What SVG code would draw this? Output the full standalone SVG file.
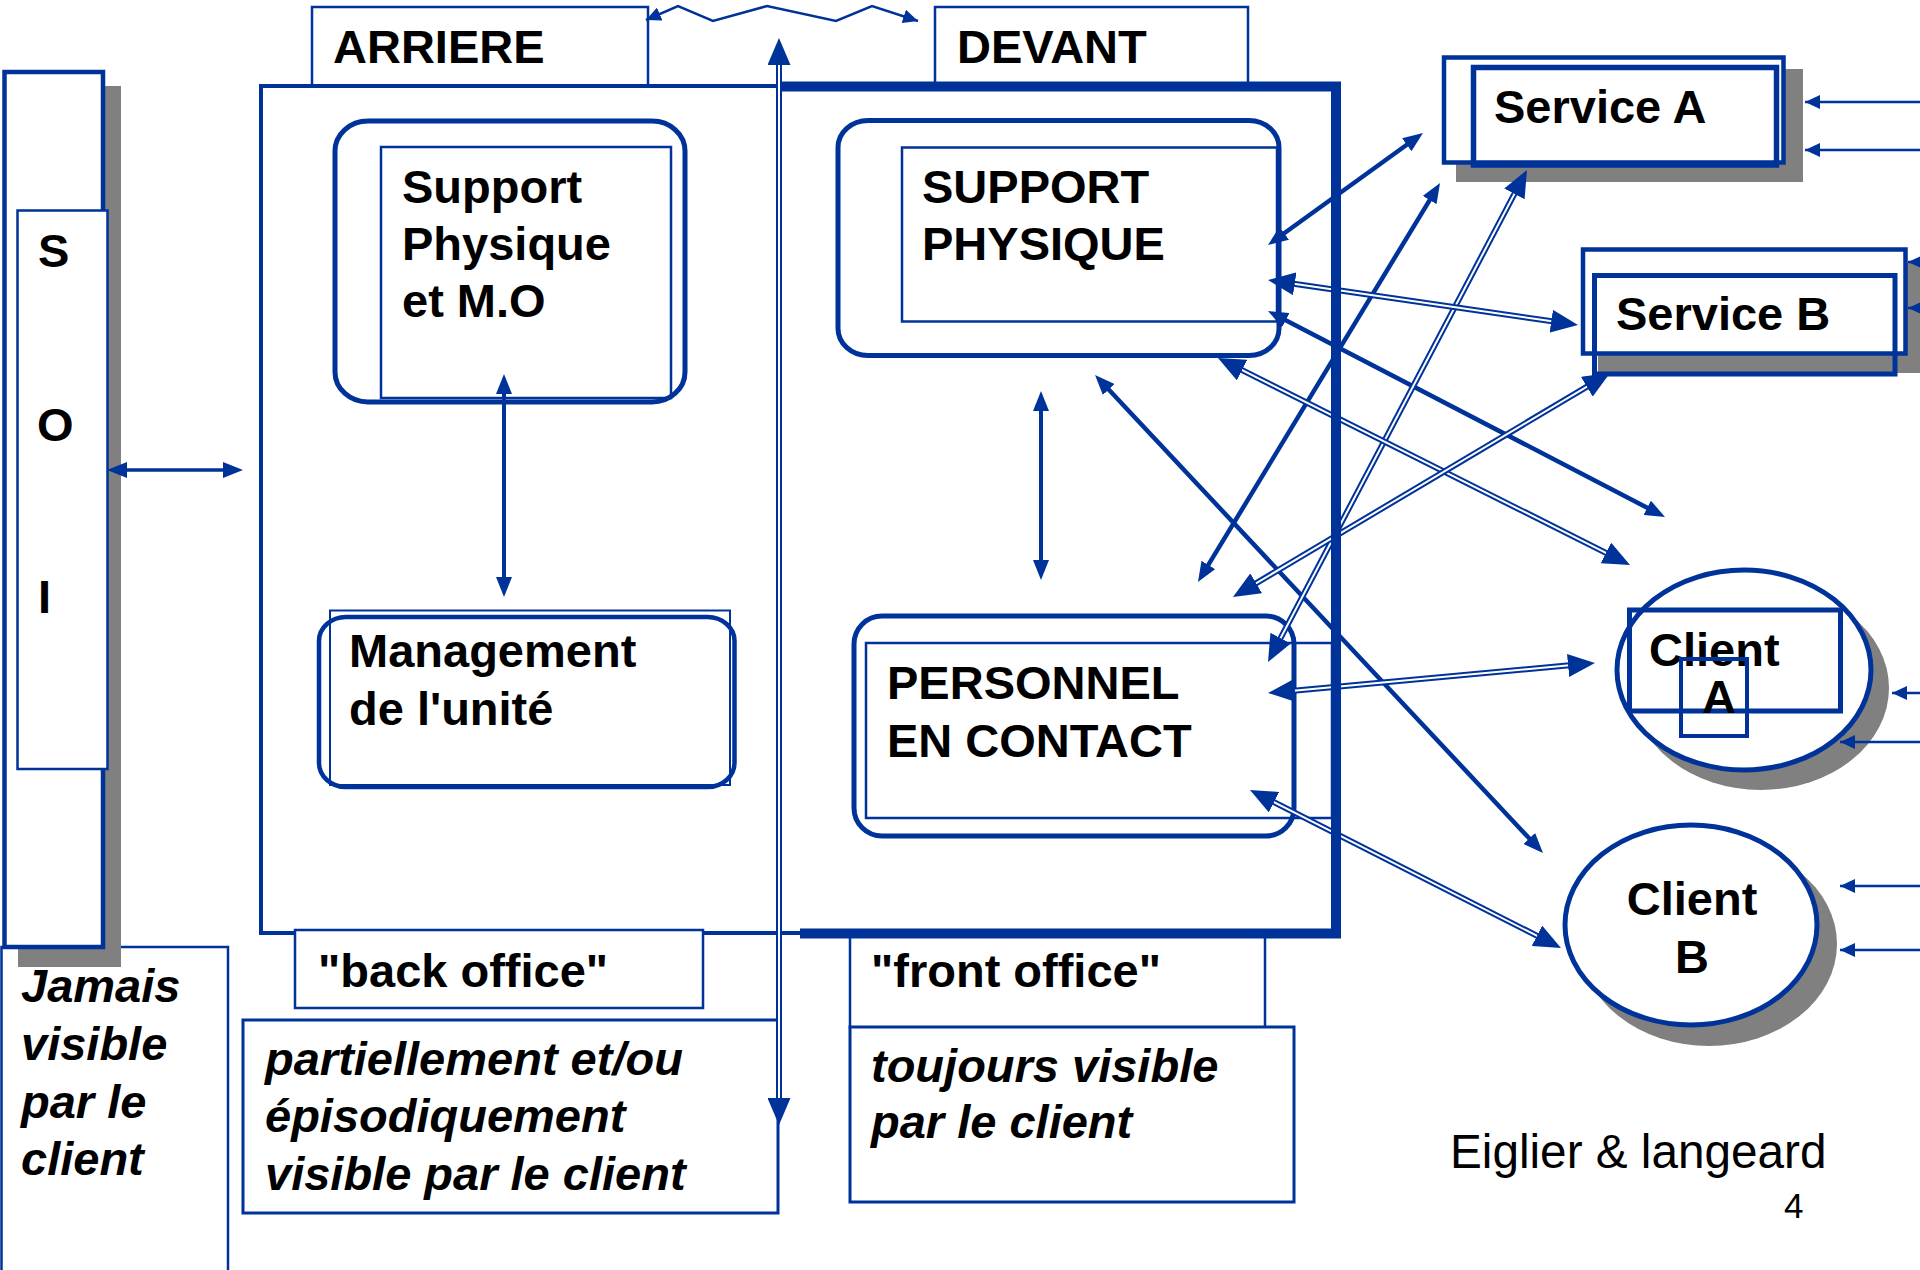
<svg xmlns="http://www.w3.org/2000/svg" width="1920" height="1270" viewBox="0 0 1920 1270">
<defs>
<style>
.t{font-family:"Liberation Sans",Arial,Helvetica,sans-serif;font-weight:bold;font-size:47px;fill:#000}
.i{font-style:italic}
.r{font-family:"Liberation Sans",Arial,Helvetica,sans-serif;fill:#000}
.ln{fill:none;stroke:#003399}
.wf{fill:#fff;stroke:#003399}
.sh{fill:#808080}
.s{fill:none;stroke:#003399;stroke-width:4.5}
.db{fill:none;stroke:#003399;stroke-width:6}
.dw{fill:none;stroke:#fff;stroke-width:2}
.dm{fill:none;stroke:none}
.th{fill:none;stroke:#003399;stroke-width:2.5}
</style>
<marker id="mS" viewBox="0 0 20 16" markerWidth="20" markerHeight="16" refX="12" refY="8" orient="auto-start-reverse" markerUnits="userSpaceOnUse"><path d="M0,0 L20,8 L0,16 z" fill="#003399"/></marker>
<marker id="mD" viewBox="0 0 27 23" markerWidth="27" markerHeight="23" refX="15" refY="11.5" orient="auto-start-reverse" markerUnits="userSpaceOnUse"><path d="M0,0 L27,11.5 L0,23 z" fill="#003399"/></marker>
<marker id="mT" viewBox="0 0 15 14" markerWidth="15" markerHeight="14" refX="15" refY="7" orient="auto-start-reverse" markerUnits="userSpaceOnUse"><path d="M0,0 L15,7 L0,14 z" fill="#003399"/></marker>
</defs>
<rect width="1920" height="1270" fill="#fff"/>

<!-- label boxes at bottom -->
<g id="jamais">
<path class="ln" stroke-width="2.5" d="M1.5,1275 V947 H228 V1275"/>
<text class="t i" x="21" y="1002">Jamais</text>
<text class="t i" x="21" y="1060">visible</text>
<text class="t i" x="21" y="1118">par le</text>
<text class="t i" x="21" y="1175">client</text>
</g>

<!-- SOI -->
<g id="soi">
<rect class="sh" x="18" y="86" width="103" height="881"/>
<rect class="wf" stroke-width="4.5" x="4.5" y="72" width="98.5" height="875"/>
<rect class="wf" stroke-width="2.5" x="17.5" y="210.5" width="90" height="558.5"/>
<text class="t" x="38" y="267">S</text>
<text class="t" x="37" y="441">O</text>
<text class="t" x="38" y="613">I</text>
</g>

<!-- header labels -->
<g id="arriere">
<rect class="wf" stroke-width="2.5" x="312" y="7" width="336" height="79"/>
<text class="t" x="333" y="63">ARRIERE</text>
</g>
<g id="devant">
<rect class="wf" stroke-width="2.5" x="935" y="7" width="313" height="79"/>
<text class="t" x="957" y="63">DEVANT</text>
</g>

<!-- main frame -->
<g id="frame">
<rect x="261" y="86" width="1075" height="847" fill="#fff"/>
<path class="ln" stroke-width="4" d="M800,933 H261 V86 H781"/>
</g>

<g id="back-office">
<rect class="wf" stroke-width="2.5" x="295" y="930" width="408" height="78"/>
<text class="t" x="318" y="987">"back office"</text>
</g>
<g id="partiel">
<rect class="wf" stroke-width="3" x="243" y="1020" width="535" height="193"/>
<text class="t i" x="265" y="1075">partiellement et/ou</text>
<text class="t i" x="265" y="1132">épisodiquement</text>
<text class="t i" x="265" y="1190">visible par le client</text>
</g>
<g id="front-office">
<rect class="wf" stroke-width="2.5" x="850" y="933" width="415" height="95"/>
<text class="t" x="871" y="987">"front office"</text>
</g>
<g id="toujours">
<rect class="wf" stroke-width="3" x="850" y="1027" width="444" height="175"/>
<text class="t i" x="871" y="1082">toujours visible</text>
<text class="t i" x="871" y="1138">par le client</text>
</g>

<!-- nodes -->
<g id="support-physique-mo">
<rect class="wf" stroke-width="5" x="335" y="121" width="350" height="281" rx="33" ry="30"/>
<rect class="ln" stroke-width="2.5" x="381" y="147" width="290" height="251"/>
<text class="t" x="402" y="203">Support</text>
<text class="t" x="402" y="260">Physique</text>
<text class="t" x="402" y="317">et M.O</text>
</g>

<g id="management">
<rect class="wf" stroke-width="4.5" x="319" y="617" width="415.5" height="170" rx="27" ry="24"/>
<rect class="ln" stroke-width="2" x="330" y="610.5" width="400" height="174.5"/>
<text class="t" x="349" y="667">Management</text>
<text class="t" x="349" y="725">de l'unité</text>
</g>

<g id="support-physique">
<rect class="wf" stroke-width="5" x="838" y="120.5" width="441" height="235" rx="30" ry="27"/>
<rect class="ln" stroke-width="2.5" x="902" y="147.5" width="375" height="174"/>
<text class="t" x="922" y="203">SUPPORT</text>
<text class="t" x="922" y="260">PHYSIQUE</text>
</g>

<g id="personnel">
<rect class="wf" stroke-width="5" x="854" y="616" width="440" height="220" rx="28" ry="28"/>
<rect class="ln" stroke-width="2.5" x="866" y="643" width="466" height="175"/>
<text class="t" x="887" y="699">PERSONNEL</text>
<text class="t" x="887" y="757">EN CONTACT</text>
</g>

<g id="service-a">
<rect class="sh" x="1456" y="69" width="347" height="113"/>
<rect class="wf" stroke-width="4.5" x="1444" y="57.5" width="339.5" height="105"/>
<rect class="ln" stroke-width="5.5" x="1473.5" y="67.5" width="303" height="97.5"/>
<text class="t" x="1494" y="123">Service A</text>
</g>

<g id="service-b">
<rect class="sh" x="1598" y="263" width="330" height="110"/>
<rect class="wf" stroke-width="4.5" x="1583" y="249.5" width="322.5" height="104"/>
<rect class="ln" stroke-width="5" x="1594.5" y="275.5" width="300.5" height="98.5"/>
<text class="t" x="1616" y="330">Service B</text>
</g>

<g id="client-a">
<ellipse class="sh" cx="1761" cy="688" rx="128" ry="102"/>
<ellipse class="wf" stroke-width="5" cx="1744" cy="670" rx="127" ry="100"/>
<rect class="ln" stroke-width="5" x="1629.5" y="610" width="211" height="101"/>
<text class="t" x="1649" y="666">Client</text>
<rect class="ln" stroke-width="4" x="1681" y="659" width="66" height="77"/>
<text class="t" x="1702" y="713">A</text>
</g>

<g id="client-b">
<ellipse class="sh" cx="1709" cy="944" rx="128" ry="102"/>
<ellipse class="wf" stroke-width="5" cx="1691" cy="925" rx="126" ry="100"/>
<text class="t" x="1692" y="915" text-anchor="middle">Client</text>
<text class="t" x="1692" y="973" text-anchor="middle">B</text>
</g>

<!-- connectors -->
<g id="connectors">
<path class="ln" stroke-width="3.5" d="M115,470 H235" marker-start="url(#mS)" marker-end="url(#mS)"/>
<path class="th" d="M646,20 L678,6 L713,21 L767,6 L836,21 L872,6 L918,21" marker-start="url(#mT)" marker-end="url(#mT)"/>
<path class="db" d="M779,50 V1113"/><path class="dw" d="M779,50 V1113"/>
<path class="dm" d="M779,50 V1113" marker-start="url(#mD)" marker-end="url(#mD)"/>
<path class="ln" stroke-width="4" d="M504,382 V589" marker-start="url(#mS)" marker-end="url(#mS)"/>
<path class="ln" stroke-width="4" d="M1041,399 V572" marker-start="url(#mS)" marker-end="url(#mS)"/>

<path class="s" d="M1274.5,240.3 L1416.5,137.7" marker-start="url(#mS)" marker-end="url(#mS)"/>
<path class="s" d="M1435.9,189.8 L1202.1,575.2" marker-start="url(#mS)" marker-end="url(#mS)"/>
<path class="s" d="M1275.1,314.7 L1657.9,513.3" marker-start="url(#mS)" marker-end="url(#mS)"/>
<path class="s" d="M1100.5,380.8 L1537.5,847.2" marker-start="url(#mS)" marker-end="url(#mS)"/>

<path class="db" d="M1521.4,180.6 L1273.6,651.4"/><path class="dw" d="M1521.4,180.6 L1273.6,651.4"/>
<path class="dm" d="M1521.4,180.6 L1273.6,651.4" marker-start="url(#mD)" marker-end="url(#mD)"/>

<path class="db" d="M1279.9,281.7 L1566.1,323.3"/><path class="dw" d="M1279.9,281.7 L1566.1,323.3"/>
<path class="dm" d="M1279.9,281.7 L1566.1,323.3" marker-start="url(#mD)" marker-end="url(#mD)"/>

<path class="db" d="M1228.7,363.4 L1619.3,559.6"/><path class="dw" d="M1228.7,363.4 L1619.3,559.6"/>
<path class="dm" d="M1228.7,363.4 L1619.3,559.6" marker-start="url(#mD)" marker-end="url(#mD)"/>

<path class="db" d="M1599.7,379.1 L1243.3,590.9"/><path class="dw" d="M1599.7,379.1 L1243.3,590.9"/>
<path class="dm" d="M1599.7,379.1 L1243.3,590.9" marker-start="url(#mD)" marker-end="url(#mD)"/>

<path class="db" d="M1280,691.9 L1583,664.1"/><path class="dw" d="M1280,691.9 L1583,664.1"/>
<path class="dm" d="M1280,691.9 L1583,664.1" marker-start="url(#mD)" marker-end="url(#mD)"/>

<path class="db" d="M1260.7,795.4 L1550.3,942.6"/><path class="dw" d="M1260.7,795.4 L1550.3,942.6"/>
<path class="dm" d="M1260.7,795.4 L1550.3,942.6" marker-start="url(#mD)" marker-end="url(#mD)"/>

<path class="th" d="M1925,102 H1805" marker-end="url(#mT)"/>
<path class="th" d="M1925,150 H1805" marker-end="url(#mT)"/>
<path class="th" d="M1925,262 H1908" marker-end="url(#mT)"/>
<path class="th" d="M1925,308 H1908" marker-end="url(#mT)"/>
<path class="th" d="M1925,693 H1892" marker-end="url(#mT)"/>
<path class="th" d="M1925,742 H1840" marker-end="url(#mT)"/>
<path class="th" d="M1925,886 H1840" marker-end="url(#mT)"/>
<path class="th" d="M1925,950 H1840" marker-end="url(#mT)"/>
</g>

<g id="frame-front">
<path class="ln" stroke-width="10" d="M781,86.5 H1336 V933.5 H800"/>
</g>

<g id="footer">
<text class="r" x="1450" y="1168" font-size="47.7">Eiglier &amp; langeard</text>
<text class="r" x="1784" y="1218" font-size="35">4</text>
</g>
</svg>
